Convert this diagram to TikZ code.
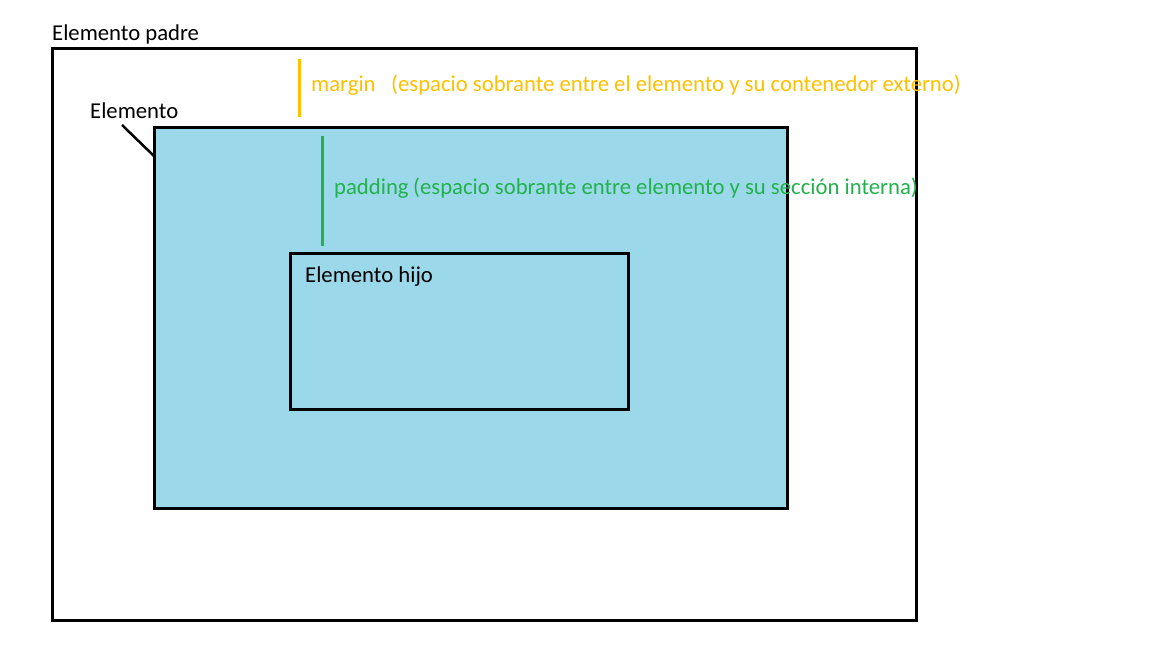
\documentclass[tikz,border=0pt]{standalone}
\usepackage{fontspec}
\setmainfont{Carlito}
\definecolor{boxblue}{RGB}{155,217,234}
\definecolor{marginyellow}{RGB}{255,192,0}
\definecolor{paddinggreen}{RGB}{34,177,76}
\begin{document}
\begin{tikzpicture}[x=1pt,y=-1pt,
  frame/.style={draw=black,line width=3pt},
  lbl/.style={anchor=base west,inner sep=0pt,font=\fontsize{22.7}{27}\selectfont},
  guide/.style={line width=3pt}]
\useasboundingbox (0,0) rectangle (1152,648);
% outer parent
\draw[frame] (52,48) rectangle (916,620);
\node[lbl] (padre) at (52,40) {Elemento padre};
% element
\draw[frame,fill=boxblue] (154,127) rectangle (787,508);
\coordinate (elemcorner) at (155,157);
\node[lbl] (elem) at (90,118) {Elemento};
\coordinate (leadstart) at (122,125);
\draw[line width=2.5pt] (leadstart) -- (elemcorner);
% child
\draw[frame] (290,253) rectangle (628,409);
\node[lbl] (hijo) at (305,282) {Elemento hijo};
% margin guide
\coordinate (mtop) at (299,59);
\coordinate (mbot) at (299,117);
\draw[guide,marginyellow] (mtop) -- (mbot);
\node[lbl,text=marginyellow] (margin) at (311,91.5) {margin};
\node[lbl,text=marginyellow] (margindesc) at (391,91.5) {(espacio sobrante entre el elemento y su contenedor externo)};
% padding guide
\coordinate (ptop) at (322,136);
\coordinate (pbot) at (322,246);
\draw[guide,paddinggreen] (ptop) -- (pbot);
\node[lbl,text=paddinggreen] (padding) at (334,194) {padding};
\node[lbl,text=paddinggreen] (paddingdesc) at (413,194) {(espacio sobrante entre elemento y su sección interna)};
\end{tikzpicture}
\end{document}
